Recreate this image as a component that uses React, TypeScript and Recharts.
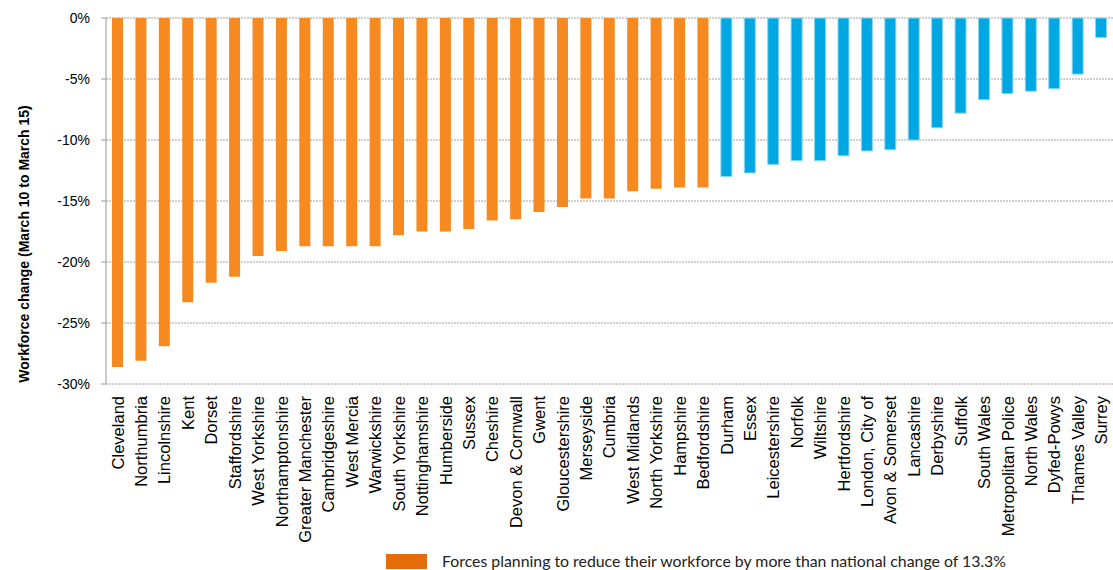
import React from "react";
import { Bar, BarChart, CartesianGrid, Cell, XAxis, YAxis } from "recharts";

const categories = [
  "Cleveland", "Northumbria", "Lincolnshire", "Kent", "Dorset", "Staffordshire",
  "West Yorkshire", "Northamptonshire", "Greater Manchester", "Cambridgeshire",
  "West Mercia", "Warwickshire", "South Yorkshire", "Nottinghamshire", "Humberside",
  "Sussex", "Cheshire", "Devon & Cornwall", "Gwent", "Gloucestershire", "Merseyside",
  "Cumbria", "West Midlands", "North Yorkshire", "Hampshire", "Bedfordshire",
  "Durham", "Essex", "Leicestershire", "Norfolk", "Wiltshire", "Hertfordshire",
  "London, City of", "Avon & Somerset", "Lancashire", "Derbyshire", "Suffolk",
  "South Wales", "Metropolitan Police", "North Wales", "Dyfed-Powys", "Thames Valley",
  "Surrey",
];

const values = [
  -28.6, -28.1, -26.9, -23.3, -21.7, -21.2, -19.5, -19.1, -18.7, -18.7,
  -18.7, -18.7, -17.8, -17.5, -17.5, -17.3, -16.6, -16.5, -15.9, -15.5,
  -14.8, -14.8, -14.2, -14.0, -13.9, -13.9, -13.0, -12.7, -12.0, -11.7,
  -11.7, -11.3, -10.9, -10.8, -10.0, -9.0, -7.8, -6.7, -6.2, -6.0,
  -5.8, -4.6, -1.6,
];

const yTicks = [0, -5, -10, -15, -20, -25, -30];
const NATIONAL = -13.3;
const legendText = "Forces planning to reduce their workforce by more than national change of 13.3%";

const data = categories.map((name, i) => ({ name, value: values[i] }));

const W = 1113;
const H = 570;
const TOP = 18;
const LEFT = 106;
const BAND = (W - LEFT) / categories.length;

const XTick = (props: any) => {
  const { x, payload } = props;
  return (
    <text
      transform={`translate(${x},396) rotate(-90)`}
      textAnchor="end"
      dy="0.36em"
      fontSize={16.5}
      fontFamily="'Liberation Sans', Arial, sans-serif"
      fill="#000"
    >
      {payload.value}
    </text>
  );
};

const TopTick = (props: any) => {
  const { x } = props;
  const tx = x + BAND / 2;
  return <line x1={tx} x2={tx} y1={TOP} y2={TOP + 5} stroke="#999" strokeWidth={1} />;
};

export default function App() {
  return (
    <div style={{ position: "fixed", left: 0, top: 0, width: W, height: H, background: "#fff" }}>
      <BarChart
        width={W}
        height={H}
        data={data}
        margin={{ top: TOP, right: 0, left: 0, bottom: 0 }}
        barSize={11}
      >
        <CartesianGrid vertical={false} stroke="#a0a0a0" strokeDasharray="2 1" />
        <XAxis
          dataKey="name"
          interval={0}
          height={186}
          axisLine={false}
          tickLine={false}
          tick={<XTick />}
        />
        <XAxis
          xAxisId="top"
          dataKey="name"
          orientation="top"
          interval={0}
          height={0}
          axisLine={{ stroke: "#999" }}
          tickLine={false}
          tick={<TopTick />}
        />
        <YAxis
          width={LEFT}
          domain={[-30, 0]}
          ticks={yTicks}
          interval={0}
          tickFormatter={(v: number) => `${v}%`}
          tickSize={5}
          tickMargin={11}
          axisLine={{ stroke: "#999" }}
          tickLine={{ stroke: "#999" }}
          tick={{ fontSize: 14, fill: "#000", fontFamily: "'Liberation Sans', Arial, sans-serif" }}
        />
        <Bar dataKey="value" isAnimationActive={false}>
          {data.map((d, i) => (
            <Cell
              key={i}
              fill={d.value <= NATIONAL ? "#F68A20" : "#00A8E3"}
              stroke={d.value <= NATIONAL ? "none" : "#8ed5f1"}
              strokeWidth={1}
            />
          ))}
        </Bar>
      </BarChart>
      <svg
        width={W}
        height={H}
        style={{ position: "absolute", left: 0, top: 0, pointerEvents: "none" }}
      >
        <text
          transform="translate(24,244) rotate(-90)"
          textAnchor="middle"
          dy="0.36em"
          fontSize={14}
          fontWeight="bold"
          fontFamily="'Liberation Sans', Arial, sans-serif"
          fill="#000"
        >
          Workforce change (March 10 to March 15)
        </text>
        <rect x={386} y={554} width={41} height={15} fill="#E46C0A" />
        <text
          x={442}
          y={566.5}
          fontSize={15}
          fontFamily="Lato, 'Open Sans', sans-serif"
          fill="#222"
          textLength={564}
          lengthAdjust="spacingAndGlyphs"
        >
          {legendText}
        </text>
      </svg>
    </div>
  );
}
